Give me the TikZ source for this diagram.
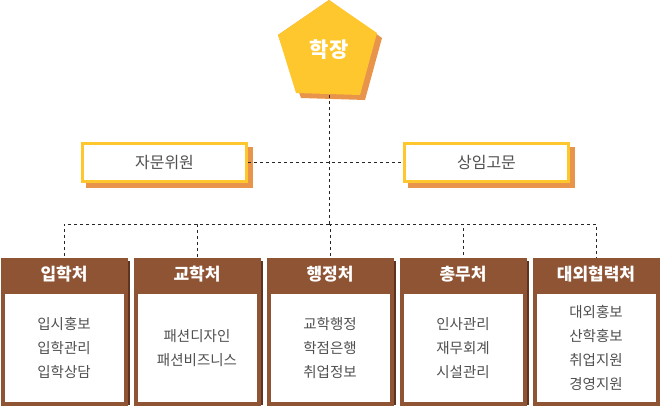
\documentclass[tikz,border=0pt]{standalone}
\usepackage{fontspec}
\usepackage{tikz}
\usetikzlibrary{positioning,shapes.geometric}
\newfontfamily\kr{Noto Sans CJK KR}
\definecolor{headyellow}{RGB}{255,199,46}
\definecolor{shadeorange}{RGB}{232,148,74}
\definecolor{deptbrown}{RGB}{142,84,52}
\definecolor{deptdark}{RGB}{94,52,32}
\definecolor{bodygray}{RGB}{80,80,80}
\tikzset{
  link/.style={dashed,gray!30!black,thin},
  advbox/.style={draw=headyellow,line width=3pt,fill=white,minimum width=164pt,minimum height=38pt,font=\kr\fontsize{16}{18}\selectfont,text=bodygray},
  depthead/.style={fill=deptbrown,minimum width=127pt,minimum height=32pt,font=\kr\bfseries\fontsize{17}{19}\selectfont,text=white,inner sep=0pt},
  deptbody/.style={draw=deptbrown,line width=4pt,fill=white,minimum width=123pt,minimum height=112pt,font=\kr\fontsize{14.5}{24}\selectfont,text=bodygray,align=center}
}
\begin{document}
\begin{tikzpicture}[x=1pt,y=-1pt]
\useasboundingbox (0,0) rectangle (660,409);
% Head
\fill[shadeorange] (329,0)--(382,38)--(365,100)--(301,98)--(278,35)--cycle;
\fill[headyellow] (329,0)--(377,33)--(360,95)--(296,93)--(278,35)--cycle;
\node[font=\kr\bfseries\fontsize{21}{23}\selectfont,text=white,draw=none] (head) at (329,50) {학장};
\coordinate (headbot) at (329,95);
% Advisors
\fill[shadeorange] (86,147) rectangle (253,188);
\node[advbox] (adv) at (164.5,162.5) {자문위원};
\fill[shadeorange] (408,147) rectangle (575,188);
\node[advbox] (sen) at (486.5,162.5) {상임고문};
\coordinate (hub) at (329,224);
\draw[link] (headbot) -- (hub);
\draw[link] (adv.east) -- (sen.west);
% Departments
\foreach \i/\x/\name/\items in {
  1/64/입학처/{입시홍보\\입학관리\\입학상담},
  2/197/교학처/{패션디자인\\패션비즈니스},
  3/330/행정처/{교학행정\\학점은행\\취업정보},
  4/463/총무처/{인사관리\\재무회계\\시설관리},
  5/596/대외협력처/{대외홍보\\산학홍보\\취업지원\\경영지원}}{
  \fill[deptdark] (\x-60,261) rectangle (\x+66,405);
  \node[depthead] (dh\i) at (\x,274) {\name};
  \node[deptbody,below=0pt of dh\i.south] (db\i) {\items};
  \draw[link] (hub) -| (dh\i.north);
}
\end{tikzpicture}
\end{document}
